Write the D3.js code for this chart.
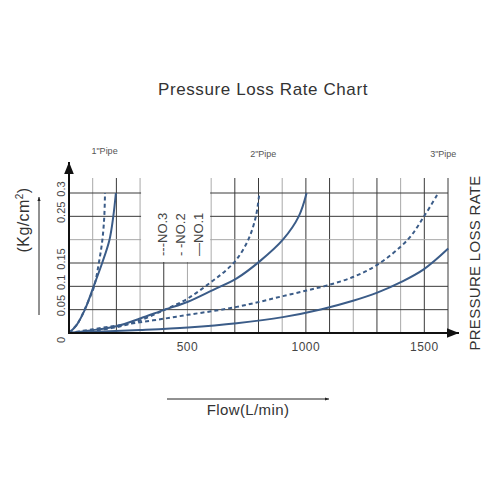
<!DOCTYPE html>
<html>
<head>
<meta charset="utf-8">
<script src="https://cdn.jsdelivr.net/npm/d3@7"></script>
<style>
  body { margin: 0; background: #fff; }
  text { font-family: "Liberation Sans", Arial, sans-serif; fill: #333; }
</style>
</head>
<body>
<div id="chart"></div>
<script>
// axis ticks
var flowTicks = [500, 1000, 1500];
var pressureTicks = [0, 0.05, 0.1, 0.15, 0.25, 0.3];   // 0.2 is not labelled
var pressureGrid = [0.05, 0.1, 0.15, 0.2, 0.25, 0.3];
var pipeLabels = [["1\"Pipe", 150], ["2\"Pipe", 820], ["3\"Pipe", 1580]];
var legendLabels = ["---NO.3", "- -NO.2", "\u2014NO.1"];

// curves: [flow L/min, pressure Kg/cm2]
var pipe1Solid = [[0, 0], [32, 0.017], [67, 0.05], [104, 0.1], [140, 0.15], [171, 0.2], [187, 0.25], [198, 0.3]];
var pipe1Dashed = [[0, 0], [36, 0.02], [70, 0.055], [106, 0.1], [126, 0.15], [141, 0.2], [149, 0.25], [152, 0.3]];
var pipe2Solid = [[0, 0], [100, 0.006], [205, 0.015], [300, 0.031], [405, 0.05], [502, 0.067], [607, 0.092], [708, 0.117], [806, 0.154], [903, 0.2], [970, 0.25], [1003, 0.3]];
var pipe2Dashed = [[0, 0], [100, 0.005], [205, 0.013], [300, 0.027], [405, 0.05], [502, 0.074], [607, 0.112], [660, 0.133], [708, 0.158], [757, 0.2], [789, 0.25], [803, 0.297]];
var pipe3Solid = [[0, 0], [300, 0.0064], [502, 0.012], [708, 0.021], [903, 0.034], [1067, 0.051], [1199, 0.069], [1304, 0.087], [1401, 0.109], [1499, 0.137], [1601, 0.181]];
var pipe3Dashed = [[0, 0], [100, 0.008], [205, 0.016], [300, 0.023], [405, 0.031], [502, 0.039], [607, 0.047], [708, 0.056], [806, 0.067], [903, 0.079], [1003, 0.091], [1090, 0.102], [1199, 0.12], [1304, 0.147], [1430, 0.2], [1499, 0.25], [1559, 0.3]];

var svg = d3.select("#chart").append("svg")
  .attr("width", 500)
  .attr("height", 500);

var x = d3.scaleLinear().domain([0, 1600]).range([69, 448]);
var y = d3.scaleLinear().domain([0, 0.3]).range([333, 193]);

var defs = svg.append("defs");
defs.append("marker")
  .attr("id", "arrow")
  .attr("viewBox", "0 0 10 10")
  .attr("refX", 10).attr("refY", 5)
  .attr("markerWidth", 6).attr("markerHeight", 6)
  .attr("orient", "auto")
  .append("path").attr("d", "M0,1L10,5L0,9Z").attr("fill", "#111");
defs.append("marker")
  .attr("id", "arrowSmall")
  .attr("viewBox", "0 0 10 10")
  .attr("refX", 10).attr("refY", 5)
  .attr("markerWidth", 4).attr("markerHeight", 4)
  .attr("orient", "auto")
  .append("path").attr("d", "M0,1L10,5L0,9Z").attr("fill", "#222");

// title
svg.append("text")
  .attr("x", 263).attr("y", 95)
  .attr("text-anchor", "middle")
  .style("font-size", "17px")
  .style("letter-spacing", "0.6px")
  .text("Pressure Loss Rate Chart");

// grid - some lines are lighter
var lightFlow = [100, 300, 500, 600, 900, 1200, 1400];
svg.append("g").selectAll("line")
  .data(d3.range(100, 1601, 100))
  .enter().append("line")
    .attr("x1", function (d) { return x(d); })
    .attr("x2", function (d) { return x(d); })
    .attr("y1", y(0))
    .attr("y2", y(0.3) - 15)
    .attr("stroke", function (d) { return lightFlow.indexOf(d) >= 0 ? "#a8a8a8" : "#3a3a3a"; })
    .attr("stroke-width", 1);

svg.append("g").selectAll("line")
  .data(pressureGrid)
  .enter().append("line")
    .attr("x1", x(0))
    .attr("x2", x(1600))
    .attr("y1", function (d) { return y(d); })
    .attr("y2", function (d) { return y(d); })
    .attr("stroke", function (d) { return d === 0.2 ? "#a8a8a8" : "#3a3a3a"; })
    .attr("stroke-width", 1);

// blank box behind the legend
svg.append("rect")
  .attr("x", x(300) + 1)
  .attr("y", y(0.3) - 20)
  .attr("width", x(600) - x(300) - 2)
  .attr("height", y(0.15) - y(0.3) + 19)
  .attr("fill", "#fff");

// legend
svg.append("g").selectAll("text")
  .data(legendLabels)
  .enter().append("text")
    .attr("transform", function (d, i) { return "translate(167," + 256 + ") translate(" + (i * 18) + ",0) rotate(-90)"; })
    .style("font-size", "13px")
    .style("fill", "#444")
    .text(function (d) { return d; });

// curves
var line = d3.line()
  .x(function (d) { return x(d[0]); })
  .y(function (d) { return y(d[1]); })
  .curve(d3.curveCatmullRom.alpha(0.5));

var curves = [
  [pipe1Solid, false], [pipe1Dashed, true],
  [pipe2Solid, false], [pipe2Dashed, true],
  [pipe3Solid, false], [pipe3Dashed, true]
];
svg.append("g").selectAll("path")
  .data(curves)
  .enter().append("path")
    .attr("d", function (d) { return line(d[0]); })
    .attr("fill", "none")
    .attr("stroke", "#3b5c88")
    .attr("stroke-width", 2)
    .attr("stroke-dasharray", function (d) { return d[1] ? "4,3" : null; });

// axes
svg.append("line")
  .attr("x1", x(0)).attr("y1", y(0))
  .attr("x2", 459).attr("y2", y(0))
  .attr("stroke", "#111").attr("stroke-width", 2)
  .attr("marker-end", "url(#arrow)");
svg.append("line")
  .attr("x1", x(0)).attr("y1", y(0) + 1)
  .attr("x2", x(0)).attr("y2", 162)
  .attr("stroke", "#111").attr("stroke-width", 2)
  .attr("marker-end", "url(#arrow)");

// tick labels
svg.append("g").selectAll("text")
  .data(flowTicks)
  .enter().append("text")
    .attr("x", function (d) { return x(d); })
    .attr("y", 351)
    .attr("text-anchor", "middle")
    .style("font-size", "12px")
    .style("fill", "#444")
    .style("letter-spacing", "0.5px")
    .text(function (d) { return d; });

svg.append("g").selectAll("text")
  .data(pressureTicks)
  .enter().append("text")
    .attr("transform", function (d) { return "translate(65," + (d === 0 ? y(d) + 7 : y(d) - 4) + ") rotate(-90)"; })
    .attr("text-anchor", "middle")
    .style("font-size", "11px")
    .style("fill", "#444")
    .text(function (d) { return d; });

// pipe labels
svg.append("g").selectAll("text")
  .data(pipeLabels)
  .enter().append("text")
    .attr("x", function (d) { return x(d[1]); })
    .attr("y", function (d, i) { return i === 0 ? 154 : 157; })
    .attr("text-anchor", "middle")
    .style("font-size", "9px")
    .style("fill", "#555")
    .text(function (d) { return d[0]; });

// axis titles
svg.append("text")
  .attr("x", 248).attr("y", 415)
  .attr("text-anchor", "middle")
  .style("font-size", "15px")
  .style("letter-spacing", "0.4px")
  .text("Flow(L/min)");
svg.append("line")
  .attr("x1", 167).attr("y1", 399)
  .attr("x2", 329).attr("y2", 399)
  .attr("stroke", "#222").attr("stroke-width", 1)
  .attr("marker-end", "url(#arrowSmall)");

var yTitle = svg.append("text")
  .attr("transform", "translate(29,220) rotate(-90)")
  .attr("text-anchor", "middle")
  .style("font-size", "16px")
  .style("letter-spacing", "0.4px");
yTitle.append("tspan").text("(Kg/cm");
yTitle.append("tspan").attr("dy", -6).style("font-size", "10px").text("2");
yTitle.append("tspan").attr("dy", 6).text(")");
svg.append("line")
  .attr("x1", 39).attr("y1", 315)
  .attr("x2", 39).attr("y2", 197)
  .attr("stroke", "#222").attr("stroke-width", 1)
  .attr("marker-end", "url(#arrowSmall)");

svg.append("text")
  .attr("transform", "translate(480,263) rotate(-90)")
  .attr("text-anchor", "middle")
  .style("font-size", "15px")
  .style("letter-spacing", "0.3px")
  .text("PRESSURE LOSS RATE");
</script>
</body>
</html>
